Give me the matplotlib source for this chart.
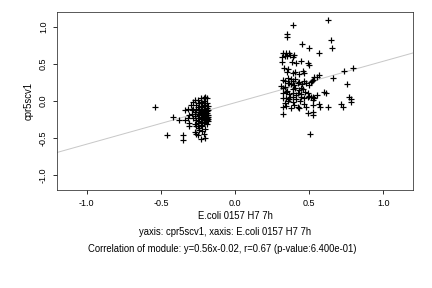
import numpy as np
import matplotlib
matplotlib.use("Agg")
import matplotlib.pyplot as plt

plt.rcParams["font.family"] = ["Liberation Sans", "DejaVu Sans"]

# ── Data ───────────────────────────────────────────────────────────────────
left_x = [-0.54, -0.46, -0.42, -0.38, -0.35, -0.35, -0.34, -0.34, -0.32, -0.31,
          -0.31, -0.32, -0.31, -0.29, -0.30, -0.28, -0.27, -0.25, -0.27, -0.26,
          -0.25, -0.23, -0.20, -0.20, -0.24, -0.25, -0.23, -0.20,
          -0.28, -0.27, -0.27, -0.26, -0.26, -0.26, -0.25, -0.25, -0.25, -0.24,
          -0.24, -0.24, -0.24, -0.24, -0.23, -0.23, -0.23, -0.23, -0.23, -0.23,
          -0.23, -0.22, -0.22, -0.22, -0.22, -0.22, -0.22, -0.21, -0.21, -0.21,
          -0.21, -0.21, -0.21, -0.21, -0.21, -0.20, -0.20, -0.20, -0.20, -0.20,
          -0.20, -0.20, -0.20, -0.20, -0.19, -0.19, -0.19, -0.19, -0.19, -0.19,
          -0.19, -0.19, -0.18, -0.18, -0.18, -0.18, -0.18, -0.18, -0.27, -0.26,
          -0.28, -0.29, -0.24, -0.22, -0.22, -0.21, -0.19, -0.25, -0.21, -0.20]
left_y = [-0.08, -0.46, -0.21, -0.25, -0.45, -0.53, -0.25, -0.12, -0.11, -0.34,
          -0.30, -0.23, -0.18, -0.12, -0.05, -0.01, 0.02, 0.02, -0.41, -0.44,
          -0.46, -0.51, -0.49, -0.38, -0.36, -0.30, 0.05, 0.05,
          -0.10, -0.15, -0.20, -0.05, -0.12, -0.25, -0.08, -0.17, -0.22, -0.03,
          -0.10, -0.14, -0.19, -0.27, -0.01, -0.06, -0.12, -0.16, -0.21, -0.24,
          -0.32, -0.02, -0.08, -0.13, -0.18, -0.22, -0.28, 0.00, -0.05, -0.10,
          -0.15, -0.19, -0.24, -0.26, -0.30, -0.03, -0.07, -0.11, -0.14, -0.17,
          -0.20, -0.23, -0.25, -0.28, -0.02, -0.09, -0.13, -0.16, -0.19, -0.22,
          -0.25, -0.31, -0.06, -0.12, -0.18, -0.21, -0.24, -0.27, -0.31, -0.34,
          -0.23, -0.17, -0.39, -0.40, -0.34, 0.04, 0.05, -0.33, -0.44, 0.06]

right_x = [0.625, 0.389, 0.348, 0.348, 0.647, 0.449, 0.497, 0.652, 0.569,
           0.326, 0.344, 0.362, 0.335, 0.353, 0.371, 0.389, 0.398, 0.317,
           0.317, 0.382, 0.411, 0.443, 0.490, 0.501,
           0.348, 0.389, 0.407, 0.456, 0.467, 0.434,
           0.555, 0.566, 0.663, 0.737, 0.793,
           0.321, 0.339, 0.355, 0.366, 0.378, 0.393, 0.407, 0.422, 0.434, 0.452,
           0.467, 0.479, 0.501, 0.512, 0.524,
           0.310, 0.321, 0.339, 0.389, 0.407, 0.429, 0.445, 0.461, 0.755,
           0.321, 0.344, 0.366, 0.389, 0.422, 0.445, 0.490,
           0.321, 0.344, 0.366, 0.389, 0.411, 0.445, 0.467, 0.490, 0.501, 0.512,
           0.524, 0.535, 0.524, 0.602, 0.613, 0.771, 0.782, 0.784,
           0.321, 0.344, 0.378, 0.400, 0.422, 0.434, 0.467, 0.479, 0.524, 0.569,
           0.573, 0.625, 0.714, 0.726,
           0.321, 0.490, 0.524, 0.528, 0.508,
           0.33, 0.36, 0.38, 0.36, 0.40, 0.35, 0.37, 0.41, 0.47, 0.34, 0.36,
           0.44, 0.39, 0.55, 0.53, 0.52]
right_y = [1.099, 1.023, 0.910, 0.874, 0.828, 0.774, 0.720, 0.720, 0.648,
           0.648, 0.657, 0.648, 0.616, 0.616, 0.621, 0.603, 0.625, 0.594,
           0.526, 0.526, 0.512, 0.549, 0.512, 0.490,
           0.400, 0.377, 0.400, 0.413, 0.386, 0.363,
           0.332, 0.350, 0.318, 0.413, 0.445,
           0.287, 0.273, 0.251, 0.242, 0.233, 0.278, 0.296, 0.251, 0.264, 0.233,
           0.273, 0.251, 0.219, 0.264, 0.287,
           0.205, 0.174, 0.187, 0.160, 0.174, 0.151, 0.174, 0.160, 0.233,
           0.115, 0.129, 0.097, 0.106, 0.115, 0.097, 0.106,
           0.038, 0.038, 0.025, 0.052, 0.025, 0.052, 0.038, 0.052, 0.070, 0.052,
           0.061, 0.038, 0.016, 0.129, 0.106, 0.061, 0.025, -0.007,
           -0.074, -0.065, -0.097, -0.052, -0.074, -0.088, -0.043, -0.074, -0.052,
           -0.038, -0.074, -0.084, -0.043, -0.074,
           -0.174, -0.165, -0.151, -0.187, -0.436,
           0.45, 0.43, 0.30, 0.32, 0.22, 0.14, 0.06, 0.08, 0.12, -0.02, 0.00,
           0.00, -0.01, 0.09, 0.33, 0.28]

slope, intercept = 0.56, -0.02
x_name = "E.coli 0157 H7 7h"
y_name = "cpr5scv1"
ticks = [-1.0, -0.5, 0.0, 0.5, 1.0]

# ── Figure ────────────────────────────────────────────────────────────────
fig = plt.figure(figsize=(6, 4), dpi=72)
ax = fig.add_axes([0.132, 0.340, 0.824, 0.617])

xs = np.array([-1.2, 1.2])
ax.plot(xs, slope * xs + intercept, color="#c8c8c8", lw=1.0, zorder=1)
ax.plot(left_x + right_x, left_y + right_y, "+", color="black",
        markersize=6, markeredgewidth=1.2, zorder=2)

ax.set_xlim(-1.2, 1.2)
ax.set_ylim(-1.2, 1.2)
ax.set_xticks(ticks)
ax.set_yticks(ticks)
ax.set_xticklabels([f"{t:.1f}" for t in ticks])
ax.set_yticklabels([f"{t:.1f}" for t in ticks], rotation=90, va="center")
ax.tick_params(labelsize=9, length=4, width=0.8, pad=5)
for s in ax.spines.values():
    s.set_linewidth(0.8)
    s.set_color("#333333")

ax.set_xlabel(x_name, fontsize=9.5, labelpad=3)
ax.set_ylabel(y_name, fontsize=9.5, labelpad=5)

# two caption lines under the x label
fig.text(0.521, 1 - 232 / 288, f"yaxis: {y_name}, xaxis: {x_name}",
         ha="center", va="center", fontsize=9.5)
fig.text(0.514, 1 - 249 / 288,
         f"Correlation of module: y={slope:.2f}x{intercept:.2f}, r=0.67 (p-value:6.400e-01)",
         ha="center", va="center", fontsize=9.5)

fig.savefig("out.png", dpi=72, facecolor="white")
